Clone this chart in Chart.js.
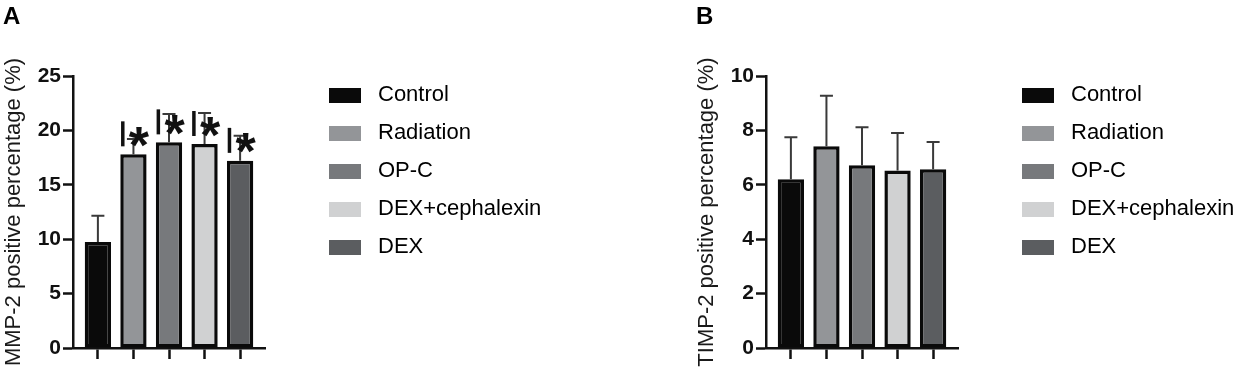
<!DOCTYPE html>
<html>
<head>
<meta charset="utf-8">
<script src="https://cdn.jsdelivr.net/npm/chart.js@4.4.1/dist/chart.umd.min.js"></script>
<style>
    body {
        margin: 0;
        background: #fff;
    }
    #page {
        position: relative;
        width: 1246px;
        height: 368px;
        overflow: hidden;
    }
    .panel {
        position: absolute;
        top: 0;
        width: 553px;
        height: 368px;
    }
    .panel canvas {
        position: absolute;
        left: 0;
        top: 0;
    }
    .tag {
        position: absolute;
        left: 3px;
        top: 4px;
        font: bold 24px 'Liberation Sans', Arial, sans-serif;
        line-height: 24px;
        color: #000;
    }
</style>
</head>
<body>
<div id="page">
    <div class="panel" style="left:0">
        <canvas id="chartA" width="553" height="368"></canvas>
        <div class="tag">A</div>
    </div>
    <div class="panel" style="left:693px">
        <canvas id="chartB" width="553" height="368"></canvas>
        <div class="tag">B</div>
    </div>
</div>
<script>
const categories = ['Control', 'Radiation', 'OP-C', 'DEX+cephalexin', 'DEX'];
const colors = ['#0a0a0a', '#939598', '#77797c', '#d0d1d2', '#5b5d60'];

// panel A - MMP-2
const mmp2Values = [9.75, 17.8, 18.9, 18.75, 17.2];
const mmp2Errors = [2.4, 1.4, 2.6, 2.85, 2.3];
const mmp2Marks = ['', '*', '*', '*', '*'];
const mmp2Ticks = [0, 5, 10, 15, 20, 25];

// panel B - TIMP-2
const timp2Values = [6.2, 7.42, 6.72, 6.53, 6.57];
const timp2Errors = [1.55, 1.85, 1.4, 1.37, 1.0];
const timp2Marks = ['', '', '', '', ''];
const timp2Ticks = [0, 2, 4, 6, 8, 10];

Chart.defaults.font.family = "'Liberation Sans', Arial, sans-serif";

// legend swatch: transparent lead-in so the box sits clear of the axis
function makeSwatch(color) {
    var c = document.createElement('canvas');
    c.width = 74;
    c.height = 15;
    var ctx = c.getContext('2d');
    ctx.fillStyle = color;
    ctx.fillRect(42, 0, 32, 15);
    return c;
}
const swatches = colors.map(makeSwatch);

// error bars (mean + SD), drawn under the bars
const errorBars = {
    id: 'errorBars',
    beforeDatasetsDraw(chart, args, opts) {
        var ctx = chart.ctx;
        var x = chart.scales.x, y = chart.scales.y;
        ctx.save();
        ctx.strokeStyle = '#3a3a3a';
        ctx.lineWidth = 2;
        opts.values.forEach(function(v, i) {
            var px = x.getPixelForValue(i);
            var base = y.getPixelForValue(v);
            var top = y.getPixelForValue(v + opts.errors[i]);
            ctx.beginPath();
            ctx.moveTo(px, base);
            ctx.lineTo(px, top);
            ctx.moveTo(px - 6.5, top);
            ctx.lineTo(px + 6.5, top);
            ctx.stroke();
        });
        ctx.restore();
    }
};

// significance marks above bars
const sigMarks = {
    id: 'sigMarks',
    afterDatasetsDraw(chart, args, opts) {
        var ctx = chart.ctx;
        var bars = chart.getDatasetMeta(0).data;
        ctx.save();
        ctx.fillStyle = '#111';
        ctx.strokeStyle = '#111';
        ctx.font = "bold 52px 'Liberation Sans', Arial, sans-serif";
        ctx.textAlign = 'center';
        ctx.textBaseline = 'alphabetic';
        opts.marks.forEach(function(m, i) {
            if (!m) return;
            var bar = bars[i];
            var left = bar.x - bar.width / 2;
            ctx.lineWidth = 3.5;
            ctx.beginPath();
            ctx.moveTo(left + 2.5, bar.y - 33);
            ctx.lineTo(left + 2.5, bar.y - 8);
            ctx.stroke();
            var mt = ctx.measureText(m);
            var cy = bar.y - 17.5;
            var base = cy + (mt.actualBoundingBoxAscent - mt.actualBoundingBoxDescent) / 2;
            ctx.fillText(m, bar.x + 5.5, base);
        });
        ctx.restore();
    }
};

function renderPanel(canvasId, values, errors, marks, ticks, title) {
    var points = values.map(function(v, i) {
        return { x: i, y: v };
    });

    var config = {
        type: 'bar',
        data: {
            datasets: [{
                data: points,
                backgroundColor: colors,
                borderColor: '#0a0a0a',
                borderWidth: 3.5,
                borderSkipped: false,
                categoryPercentage: 1,
                barPercentage: 0.74,
            }]
        },
        options: {
            responsive: false,
            animation: false,
            layout: {
                padding: { top: 68, right: 8, bottom: 9, left: 0 }
            },
            plugins: {
                tooltip: { enabled: false },
                legend: {
                    position: 'right',
                    align: 'start',
                    maxWidth: 280,
                    labels: {
                        usePointStyle: true,
                        pointStyleWidth: 86,
                        padding: 16,
                        color: '#222',
                        font: { size: 22 },
                        generateLabels: function() {
                            return categories.map(function(c, i) {
                                return {
                                    text: c,
                                    pointStyle: swatches[i],
                                    fillStyle: colors[i],
                                    strokeStyle: colors[i],
                                    lineWidth: 0,
                                    hidden: false,
                                    datasetIndex: 0,
                                    index: i
                                };
                            });
                        }
                    }
                },
                errorBars: { values: values, errors: errors },
                sigMarks: { marks: marks }
            },
            scales: {
                x: {
                    type: 'linear',
                    min: -0.7,
                    max: categories.length - 0.3,
                    offset: false,
                    afterBuildTicks: function(s) {
                        s.ticks = categories.map(function(c, i) {
                            return { value: i };
                        });
                    },
                    ticks: { display: false },
                    grid: {
                        offset: false,
                        drawOnChartArea: false,
                        tickLength: 11,
                        tickWidth: 2.5,
                        tickColor: '#111'
                    },
                    border: { color: '#111', width: 2.5 }
                },
                y: {
                    min: ticks[0],
                    max: ticks[ticks.length - 1],
                    afterBuildTicks: function(s) {
                        s.ticks = ticks.map(function(v) {
                            return { value: v };
                        });
                    },
                    afterFit: function(s) {
                        s.width = 73;
                        s.paddingTop = 76;
                    },
                    title: {
                        display: true,
                        text: title,
                        color: '#1a1a1a',
                        font: { size: 22 },
                        padding: { top: 1, bottom: 0 }
                    },
                    ticks: {
                        color: '#111',
                        padding: 2,
                        font: { size: 21, weight: 'bold' }
                    },
                    grid: {
                        drawOnChartArea: false,
                        tickLength: 10,
                        tickWidth: 2.5,
                        tickColor: '#111'
                    },
                    border: { color: '#111', width: 2.5 }
                }
            }
        },
        plugins: [errorBars, sigMarks]
    };

    return new Chart(document.getElementById(canvasId), config);
}

renderPanel('chartA', mmp2Values, mmp2Errors, mmp2Marks, mmp2Ticks, 'MMP-2 positive percentage (%)');
renderPanel('chartB', timp2Values, timp2Errors, timp2Marks, timp2Ticks, 'TIMP-2 positive percentage (%)');
</script>
</body>
</html>
